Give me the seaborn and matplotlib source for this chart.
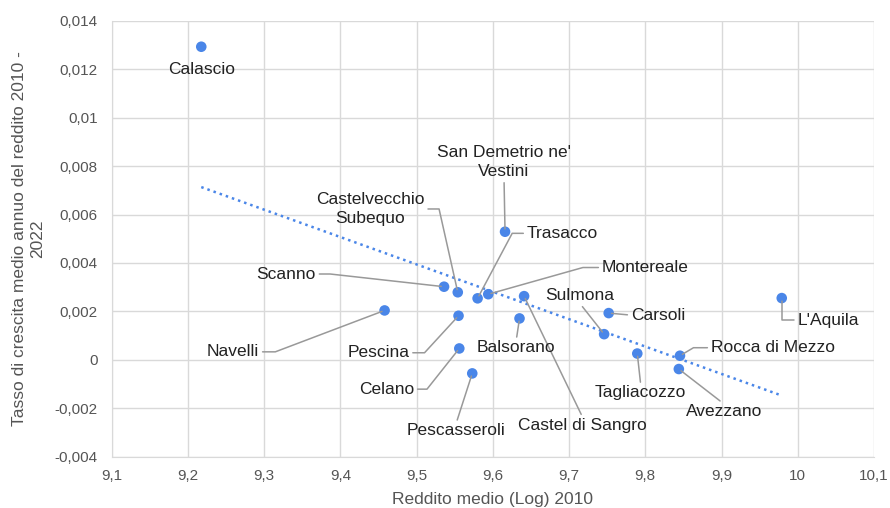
import numpy as np
import pandas as pd
import matplotlib
matplotlib.use("Agg")
import matplotlib.pyplot as plt
import seaborn as sns

# Data
comuni = ["Calascio", "San Demetrio ne'\nVestini", "Castelvecchio\nSubequo", "Trasacco",
          "Scanno", "Montereale", "Castel di Sangro", "Navelli", "Carsoli", "Pescina",
          "Balsorano", "Sulmona", "Celano", "Pescasseroli", "L'Aquila", "Tagliacozzo",
          "Rocca di Mezzo", "Avezzano"]
reddito_log = [9.2175, 9.616, 9.554, 9.580, 9.536, 9.594, 9.641, 9.458, 9.752, 9.555,
               9.635, 9.746, 9.556, 9.573, 9.979, 9.7895, 9.8455, 9.844]
tasso = [0.01293, 0.00529, 0.00279, 0.00254, 0.00302, 0.00271, 0.00263, 0.00204, 0.00193,
         0.00182, 0.00171, 0.00106, 0.00047, -0.00056, 0.00255, 0.00026, 0.00017, -0.00038]

x_ticks = [9.1, 9.2, 9.3, 9.4, 9.5, 9.6, 9.7, 9.8, 9.9, 10.0, 10.1]
y_ticks = [-0.004, -0.002, 0, 0.002, 0.004, 0.006, 0.008, 0.01, 0.012, 0.014]

df = pd.DataFrame({"x": reddito_log, "y": tasso, "nome": comuni})

# label placement: offset in pixels (dx, dy), alignment, where the leader leaves the text, elbow offset
lab_pos = {
    "Calascio": (0, -22.6, "center", (0.5, 1), None, False),
    "San Demetrio ne'\nVestini": (-1, 69.7, "center", (0.5, 0), None, True),
    "Castelvecchio\nSubequo": (-87.3, 83.3, "center", (1, 0.5), (-18.7, 83.3), True),
    "Trasacco": (49, 65, "left", (0, 0.5), (34.6, 65), True),
    "Scanno": (-128, 12.7, "right", (1, 0.5), (-114, 12.7), True),
    "Montereale": (113.4, 26.7, "left", (0, 0.5), (94.7, 26.7), True),
    "Castel di Sangro": (58.7, -129, "center", (0.5, 1), None, True),
    "Navelli": (-125.3, -41.4, "right", (1, 0.5), (-109.3, -41.4), True),
    "Carsoli": (22, -2, "left", (0, 0.5), None, True),
    "Pescina": (-49, -37, "right", (1, 0.5), (-34, -37), True),
    "Balsorano": (-3.3, -29.4, "center", (0.5, 1), None, True),
    "Sulmona": (-24.3, 38.3, "center", (0.5, 0), None, True),
    "Celano": (-45, -40.7, "right", (1, 0.5), (-32.3, -40.7), True),
    "Pescasseroli": (-16.1, -57.4, "center", (0.5, 1), None, True),
    "L'Aquila": (15.6, -22, "left", (0, 0.5), (0, -22), True),
    "Tagliacozzo": (3.5, -39.4, "center", (0.5, 1), None, True),
    "Rocca di Mezzo": (30.7, 8, "left", (0, 0.5), (13, 7.7), True),
    "Avezzano": (45.5, -42.7, "center", (0.5, 1), None, True),
}

sns.set_style("whitegrid", {"grid.color": "#d9d9d9", "axes.edgecolor": "#d9d9d9"})
plt.rcParams["font.family"] = ["Liberation Sans", "DejaVu Sans"]

blue = "#4a86e8"
fig = plt.figure(figsize=(8.9, 5.08), dpi=100)
ax = fig.add_axes([0.1255, 0.101, 0.8565, 0.858])

sns.regplot(data=df, x="x", y="y", scatter=False, ci=None, truncate=True, ax=ax,
            line_kws=dict(color=blue, ls=(0, (1, 1.6)), lw=1.8))
sns.scatterplot(data=df, x="x", y="y", color=blue, s=58, edgecolor="none", ax=ax, zorder=3)

for i, row in df.iterrows():
    dx, dy, ha, rel, elbow, line = lab_pos[row["nome"]]
    if not line:
        ax.annotate(row["nome"], (row["x"], row["y"]), xytext=(dx, dy), textcoords="offset pixels",
                    ha=ha, va="center", fontsize=12.5, color="#222222")
        continue
    if elbow is None:
        cs = "arc3"
    else:
        angB = np.degrees(np.arctan2(elbow[1], elbow[0]))
        cs = "angle,angleA=0,angleB=%.2f,rad=0" % angB
    ax.annotate(row["nome"], (row["x"], row["y"]), xytext=(dx, dy), textcoords="offset pixels",
                ha=ha, va="center", multialignment="center", linespacing=1.4,
                fontsize=12.5, color="#222222",
                arrowprops=dict(arrowstyle="-", color="#999999", lw=1.1, relpos=rel,
                                connectionstyle=cs, shrinkA=0, shrinkB=2))

ax.set_xlim(9.1, 10.1)
ax.set_ylim(-0.004, 0.014)
ax.set_xticks(x_ticks)
ax.set_yticks(y_ticks)
ax.set_xticklabels([("%g" % v).replace(".", ",") for v in x_ticks])
ax.set_yticklabels([("%g" % v).replace(".", ",") for v in y_ticks])
ax.tick_params(axis="both", length=0, labelsize=11, labelcolor="#555555")
ax.tick_params(axis="x", pad=9)
ax.tick_params(axis="y", pad=10)
for s in ax.spines.values():
    s.set_visible(False)
ax.spines["left"].set_visible(True)
ax.spines["bottom"].set_visible(True)
ax.grid(True, color="#d9d9d9", lw=1)

ax.set_xlabel("Reddito medio (Log) 2010", fontsize=12.5, color="#555555", labelpad=6)
ax.set_ylabel("Tasso di crescita medio annuo del reddito 2010 -\n2022", fontsize=12.5,
              color="#555555", labelpad=7, linespacing=1.25)

fig.savefig("out.png", dpi=100)
